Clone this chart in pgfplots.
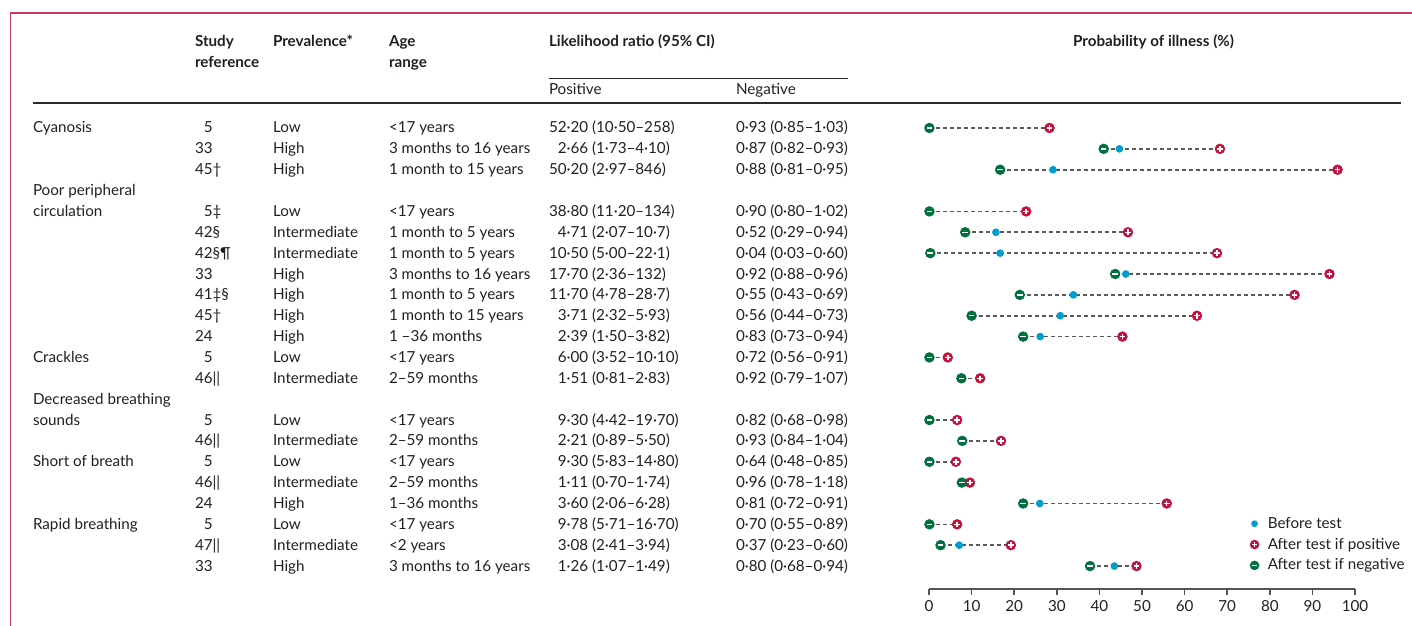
\documentclass[border=0pt]{standalone}
\usepackage{fontspec}
\setmainfont{Lato}
\usepackage{pgfplots}
\pgfplotsset{compat=1.18}
\usepackage{pgfplotstable}

\definecolor{txt}{HTML}{231F20}
\definecolor{framecol}{RGB}{200,55,95}
\definecolor{rulegray}{HTML}{2B2B2B}
\definecolor{axgray}{HTML}{555555}
\definecolor{dashgray}{HTML}{595959}
\definecolor{cpre}{RGB}{0,158,204}
\definecolor{cpos}{RGB}{196,18,60}
\definecolor{cneg}{RGB}{0,112,60}

\newcommand\tabfont{\fontsize{7.6bp}{9bp}\selectfont}

% probability of illness (%): after negative test, before test, after positive test
\pgfplotstableread{
row neg pre pos
0  0.1  0.1  28.3
1  41.0 44.7 68.3
2  16.7 29.1 95.9
4  0.1  0.1  22.8
5  8.5  15.7 46.7
6  0.3  16.7 67.6
7  43.7 46.2 94.0
8  21.3 33.9 85.8
9  10.0 30.8 62.9
10 22.1 26.1 45.4
11 0.1  0.1  4.4
12 7.6  7.6  12.0
14 0.1  0.1  6.6
15 7.8  7.8  16.9
16 0.1  0.1  6.3
17 7.7  7.7  9.6
18 22.1 26.0 55.8
19 0.1  0.1  6.6
20 2.7  7.1  19.2
21 37.8 43.5 48.7
}\probs

\tikzset{cell/.style={anchor=base west, inner sep=0pt, outer sep=0pt, font=\tabfont, text=txt}}

% one table line: row index, reference, prevalence, age range, LR+, LR-
\newcommand\trow[6]{%
  \node[cell] at (195,{133+20.86*#1}) {#2};
  \node[cell] at (273,{133+20.86*#1}) {#3};
  \node[cell] at (389,{133+20.86*#1}) {#4};
  \node[cell] at (549,{133+20.86*#1}) {#5};
  \node[cell] at (736,{133+20.86*#1}) {#6};
}
\newcommand\tlabel[2]{\node[cell] at (33,{133+20.86*#1}) {#2};}
\newcommand\dg{\phantom{0}}

\begin{document}
\begin{tikzpicture}[x=0.5bp, y=-0.5bp]
\useasboundingbox (0,0) rectangle (1412,626);

% frame
\draw[framecol, line width=0.7bp] (10.5,626) -- (10.5,13) -- (1412,13);

% column heads
\node[cell, font=\tabfont\bfseries] at (195,47) {Study};
\node[cell, font=\tabfont\bfseries] at (195,68) {reference};
\node[cell, font=\tabfont\bfseries] at (273,47) {Prevalence*};
\node[cell, font=\tabfont\bfseries] at (389,47) {Age};
\node[cell, font=\tabfont\bfseries] at (389,68) {range};
\node[cell, font=\tabfont\bfseries] at (549,47) {Likelihood ratio (95\% CI)};
\node[cell, font=\tabfont\bfseries] at (1073,47) {Probability of illness (\%)};
\draw[rulegray, line width=0.5bp] (549,78.5) -- (848,78.5);
\node[cell] at (549,95) {Positive};
\node[cell] at (736,95) {Negative};
\draw[rulegray, line width=0.65bp] (33,103) -- (1401,103);

% sign names
\tlabel{0}{Cyanosis}
\tlabel{3}{Poor peripheral}
\tlabel{4}{circulation}
\tlabel{11}{Crackles}
\tlabel{13}{Decreased breathing}
\tlabel{14}{sounds}
\tlabel{16}{Short of breath}
\tlabel{19}{Rapid breathing}

\trow{0}{\dg5}{Low}{<17 years}{52·20 (10·50–258)}{0·93 (0·85–1·03)}
\trow{1}{33}{High}{3 months to 16 years}{\dg2·66 (1·73–4·10)}{0·87 (0·82–0·93)}
\trow{2}{45†}{High}{1 month to 15 years}{50·20 (2·97–846)}{0·88 (0·81–0·95)}
\trow{4}{\dg5‡}{Low}{<17 years}{38·80 (11·20–134)}{0·90 (0·80–1·02)}
\trow{5}{42§}{Intermediate}{1 month to 5 years}{\dg4·71 (2·07–10·7)}{0·52 (0·29–0·94)}
\trow{6}{42§¶}{Intermediate}{1 month to 5 years}{10·50 (5·00–22·1)}{0·04 (0·03–0·60)}
\trow{7}{33}{High}{3 months to 16 years}{17·70 (2·36–132)}{0·92 (0·88–0·96)}
\trow{8}{41‡§}{High}{1 month to 5 years}{11·70 (4·78–28·7)}{0·55 (0·43–0·69)}
\trow{9}{45†}{High}{1 month to 15 years}{\dg3·71 (2·32–5·93)}{0·56 (0·44–0·73)}
\trow{10}{24}{High}{1 –36 months}{\dg2·39 (1·50–3·82)}{0·83 (0·73–0·94)}
\trow{11}{\dg5}{Low}{<17 years}{\dg6·00 (3·52–10·10)}{0·72 (0·56–0·91)}
\trow{12}{46||}{Intermediate}{2–59 months}{\dg1·51 (0·81–2·83)}{0·92 (0·79–1·07)}
\trow{14}{\dg5}{Low}{<17 years}{\dg9·30 (4·42–19·70)}{0·82 (0·68–0·98)}
\trow{15}{46||}{Intermediate}{2–59 months}{\dg2·21 (0·89–5·50)}{0·93 (0·84–1·04)}
\trow{16}{\dg5}{Low}{<17 years}{\dg9·30 (5·83–14·80)}{0·64 (0·48–0·85)}
\trow{17}{46||}{Intermediate}{2–59 months}{\dg1·11 (0·70–1·74)}{0·96 (0·78–1·18)}
\trow{18}{24}{High}{1–36 months}{\dg3·60 (2·06–6·28)}{0·81 (0·72–0·91)}
\trow{19}{\dg5}{Low}{<17 years}{\dg9·78 (5·71–16·70)}{0·70 (0·55–0·89)}
\trow{20}{47||}{Intermediate}{<2 years}{\dg3·08 (2·41–3·94)}{0·37 (0·23–0·60)}
\trow{21}{33}{High}{3 months to 16 years}{\dg1·26 (1·07–1·49)}{0·80 (0·68–0·94)}

\coordinate (O) at (929,589);
\begin{axis}[
  at={(O)}, anchor=south west,
  x=2.13bp, y=10.43bp,
  xmin=0, xmax=100, ymin=-22.1, ymax=1,
  axis y line=none, axis x line*=bottom,
  x axis line style={-, axgray, line width=0.75bp},
  xtick={0,10,...,100},
  tick align=outside, major tick length=3bp,
  tick style={axgray, line width=0.75bp},
  xticklabel style={font=\tabfont, text=txt, inner sep=0pt, yshift=-2.5bp},
  /pgf/number format/assume math mode=true,
  clip=false,
  legend cell align=left,
  legend style={at={(axis cs:75.2,-18.45)}, anchor=north west, draw=none, fill=none,
    font=\tabfont, text=txt, inner sep=0pt, row sep=0pt, column sep=4.2bp,
    nodes={inner sep=0pt, text height=7.5bp, text depth=2.93bp}},
]
% dashed span from negative to positive result
\addplot[forget plot, draw=none, mark=none,
  error bars/.cd, x dir=plus, x explicit, error mark=none,
  error bar style={dashgray, line width=0.8bp, dash pattern=on 2bp off 1.5bp}]
  table[x=neg, y expr=-\thisrow{row}, x error expr=\thisrow{pos}-\thisrow{neg}] {\probs};
% before test
\addplot[forget plot, only marks, mark=*, color=cpre, mark size=1.7bp]
  table[x=pre, y expr=-\thisrow{row}] {\probs};
% after positive test
\addplot[forget plot, only marks, mark=*, color=cpos, mark size=2.4bp]
  table[x=pos, y expr=-\thisrow{row}] {\probs};
\addplot[forget plot, only marks, mark=+, color=white, mark size=1.4bp, mark options={line width=0.75bp}]
  table[x=pos, y expr=-\thisrow{row}] {\probs};
% after negative test
\addplot[forget plot, only marks, mark=*, color=cneg, mark size=2.4bp]
  table[x=neg, y expr=-\thisrow{row}] {\probs};
\addplot[forget plot, only marks, mark=-, color=white, mark size=1.4bp, mark options={line width=0.75bp}]
  table[x=neg, y expr=-\thisrow{row}] {\probs};

\addlegendimage{legend image code/.code={%
  \path[draw=none, fill=none] (-2.4bp,-2.4bp) rectangle (2.4bp,2.4bp);
  \path[draw=none, fill=cpre] (0,0) circle (1.7bp);}}
\addlegendentry{Before test}
\addlegendimage{legend image code/.code={%
  \path[draw=none, fill=none] (-2.4bp,-2.4bp) rectangle (2.4bp,2.4bp);
  \path[draw=none, fill=cpos] (0,0) circle (2.4bp);
  \path[draw=white, fill=none, line width=0.75bp] (-1.4bp,0) -- (1.4bp,0) (0,-1.4bp) -- (0,1.4bp);}}
\addlegendentry{After test if positive}
\addlegendimage{legend image code/.code={%
  \path[draw=none, fill=none] (-2.4bp,-2.4bp) rectangle (2.4bp,2.4bp);
  \path[draw=none, fill=cneg] (0,0) circle (2.4bp);
  \path[draw=white, fill=none, line width=0.75bp] (-1.4bp,0) -- (1.4bp,0);}}
\addlegendentry{After test if negative}
\end{axis}
\end{tikzpicture}
\end{document}
